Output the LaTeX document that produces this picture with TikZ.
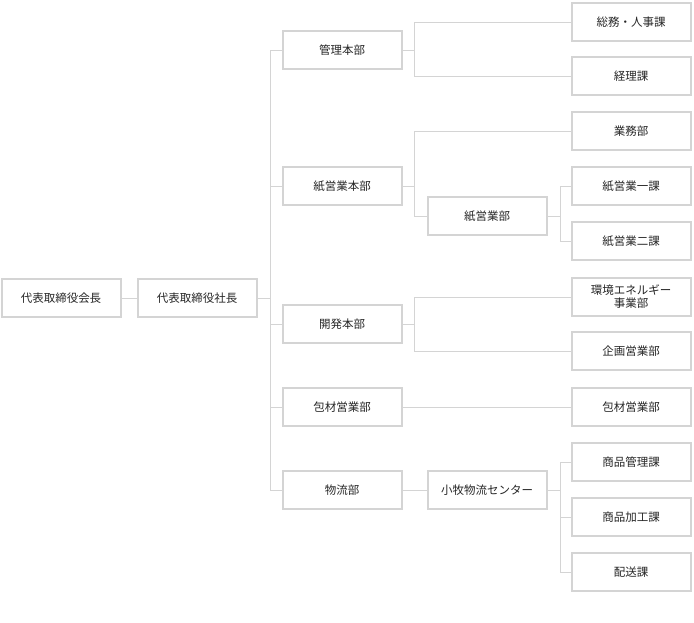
\documentclass[tikz,border=0pt]{standalone}
\usepackage{fontspec}
\setmainfont{Noto Sans CJK JP}
\begin{document}
\begin{tikzpicture}[x=1pt,y=-1pt,
  bx/.style={draw=black!17,line width=2pt,fill=white,minimum width=119pt,minimum height=38pt,inner sep=0pt,font=\fontsize{11.5}{13}\selectfont,text=black!85,align=center},
  ln/.style={draw=black!17,line width=1pt}]
\useasboundingbox (0,0) rectangle (694,622);
\node[bx] (a) at (61,298) {代表取締役会長};
\node[bx] (b) at (197,298) {代表取締役社長};
\node[bx] (k1) at (342,50) {管理本部};
\node[bx] (k2) at (342,186) {紙営業本部};
\node[bx] (k3) at (342,324) {開発本部};
\node[bx] (k4) at (342,407) {包材営業部};
\node[bx] (k5) at (342,490) {物流部};
\node[bx] (m1) at (487,216) {紙営業部};
\node[bx] (m2) at (487,490) {小牧物流センター};
\node[bx] (r1) at (631,22) {総務・人事課};
\node[bx] (r2) at (631,76) {経理課};
\node[bx] (r3) at (631,131) {業務部};
\node[bx] (r4) at (631,186) {紙営業一課};
\node[bx] (r5) at (631,241) {紙営業二課};
\node[bx] (r6) at (631,297) {環境エネルギー\\事業部};
\node[bx] (r7) at (631,351) {企画営業部};
\node[bx] (r8) at (631,407) {包材営業部};
\node[bx] (r9) at (631,462) {商品管理課};
\node[bx] (r10) at (631,517) {商品加工課};
\node[bx] (r11) at (631,572) {配送課};
\draw[ln] (a.east) -- (b.west);
\draw[ln] (b.east) -- (270,298);
\draw[ln] (270,50) -- (270,490);
\foreach \n in {k1,k2,k3,k4,k5} \draw[ln] (270,0 |- \n.west) -- (\n.west);
\draw[ln] (k1.east) -- (414,50);
\draw[ln] (r1.west) -| (414,76) -- (r2.west);
\draw[ln] (k2.east) -- (414,186);
\draw[ln] (r3.west) -| (414,216) -- (m1.west);
\draw[ln] (m1.east) -- (560,216);
\draw[ln] (r4.west) -| (560,241) -- (r5.west);
\draw[ln] (k3.east) -- (414,324);
\draw[ln] (r6.west) -| (414,351) -- (r7.west);
\draw[ln] (k4.east) -- (r8.west);
\draw[ln] (k5.east) -- (m2.west);
\draw[ln] (m2.east) -- (560,490);
\draw[ln] (r9.west) -| (560,572) -- (r11.west);
\draw[ln] (560,517) -- (r10.west);
\end{tikzpicture}
\end{document}
